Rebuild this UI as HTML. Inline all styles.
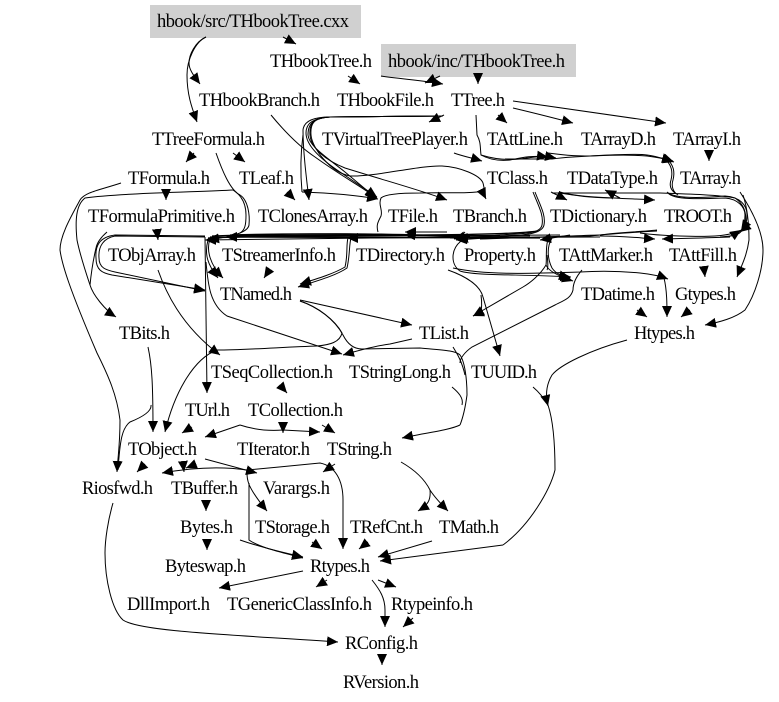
<!DOCTYPE html>
<html><head><meta charset="utf-8"><style>
html,body{margin:0;padding:0;background:#fff;width:779px;height:702px;overflow:hidden}
svg{display:block}
text{font-family:"Liberation Serif",serif;font-size:18.5px;fill:#000}
path{fill:none;stroke:#000;stroke-width:1;marker-end:url(#a)}
path.n{marker-end:none}
path.b{marker-end:none;stroke-width:1.3}
</style></head><body>
<svg width="779" height="702" viewBox="0 0 779 702" xmlns="http://www.w3.org/2000/svg">
<defs><marker id="a" markerUnits="userSpaceOnUse" markerWidth="12" markerHeight="10" refX="11" refY="5" orient="auto"><polygon points="0,0 11,5 0,10" fill="#000"/></marker></defs>
<rect x="150" y="5" width="211" height="33" fill="#d0d0d0"/>
<rect x="381" y="44" width="195" height="33" fill="#d0d0d0"/>

<!-- top -->
<path d="M283,37 L296,44"/>
<path d="M206,37 C195,42 189,55 189,63 C189,70 194,76 200,84"/>
<path d="M206,37 C195,42 187,60 187,75 C187,95 192,108 197,122"/>
<path d="M348,76 L360,84"/>
<path d="M381,76 C400,79 420,80 443,84"/>
<path d="M440,76 L425,83"/>
<path d="M478,75 L478,84"/>
<path d="M444,115 L429,122"/>
<path d="M498,115 L507,123"/>
<path d="M513,108 C530,112 550,117 573,123"/>
<path d="M513,101 L666,123"/>
<path d="M709,152 L709,161"/>
<path d="M454,153 C462,156 472,158 482,161"/>

<!-- TTree loop to clones, file, branch -->
<path d="M443,116 L330,117 C315,117 304,120 303,130 C303,150 306,175 309,200"/>
<path d="M443,116 L330,117 C315,118 306,122 306,133 C306,146 322,160 340,172 L377,197"/>
<path d="M443,116 L330,117 C315,118 308,122 308,135 C309,146 325,156 345,172 L376,198"/>
<path d="M443,116 L330,117 C315,118 309,122 310,135 C311,148 325,160 345,168 C390,182 420,190 447,200"/>
<path d="M443,116 L330,117 C315,118 310,122 311,135 C312,148 330,172 350,176 C375,177 420,165 442,166 C460,167 480,175 483,183 C485,190 484,195 486,199"/>
<path d="M271,115 C285,132 300,147 315,157 C340,175 360,186 377,198"/>
<path class="n" d="M484,191 C470,194 440,192 420,193 C400,193 385,194 381,198 C378,205 383,210 381,216 C378,222 376,225 378,232"/>
<path d="M302,192 C330,193 355,195 378,199"/>
<path class="n" d="M302,192 C300,170 301,150 303,135"/>

<!-- TTree to TClass/TArray -->
<path d="M476,115 L477,135 C481,142 480,147 481,155 C490,160 500,161 510,160 C520,158 532,155 548,157"/>
<path d="M481,155 C497,160 510,160 520,159 C540,156 545,156 556,158"/>
<path d="M548,153 C570,156 580,156 590,156 C625,154 640,154 647,155 C655,156 662,158 674,162"/>
<path d="M505,159 L552,159 C575,156 625,154 647,156 C655,157 662,158 673,161"/>
<path class="n" d="M664,158 C672,165 673,172 671,180 C669,186 671,190 675,193"/>
<path class="n" d="M666,158 C674,165 675,172 673,180 C671,186 673,192 678,195"/>

<!-- TLeaf, TTreeFormula -->
<path d="M194,153 L186,162"/>
<path d="M233,153 L245,162"/>
<path d="M287,192 L295,200"/>
<path d="M216,153 C222,170 230,190 240,195 C248,200 250,215 249,225 C248,232 235,236 208,240"/>
<path class="n" d="M233,190 C236,192 246,198 246,215 C246,225 245,230 240,233"/>

<!-- TFormula -->
<path d="M121,183 C100,190 85,192 80,200 C72,215 60,235 60,250 C62,265 70,290 97,353 C108,375 117,395 120,420 C120,445 118,455 117,472"/>
<path d="M166,192 L166,200"/>
<path d="M233,190 C200,192 120,193 85,198 C76,205 75,220 77,240 C79,250 85,270 90,285 C93,295 105,310 116,317"/>
<path class="n" d="M107,232 C100,238 97,243 96,248 C92,265 91,275 90,285"/>
<path d="M157,230 L158,240"/>
<path d="M205,236 L115,235 C100,237 95,245 96,258 C96,270 102,273 112,275 L205,290"/>
<path d="M205,237 L115,236 C104,238 98,246 99,258 C99,268 106,270 115,272 L205,291"/>

<!-- bundle -->
<path class="b" d="M208,238 C300,234 500,237 537,231"/>
<path class="b" d="M210,237 L540,238"/>
<path class="b" d="M212,236 C300,233 400,233 458,237"/>
<path class="b" d="M228,236 C300,235 400,235 470,236"/>
<path class="b" d="M230,235 C300,233 360,234 400,235"/>
<path class="n" d="M450,238 C520,239 560,236 600,235 C620,232 640,232 657,230"/>
<path class="n" d="M480,239 C520,238 560,236 590,236 C610,234 640,232 657,231"/>
<path d="M447,232 L405,232"/>
<path d="M500,236 L404,235"/>
<path d="M530,236 L205,240"/>
<path d="M560,235 L226,237"/>
<path d="M600,237 L347,238"/>
<path d="M465,232 C462,235 460,236 458,238 L454,239"/>
<path d="M533,192 C538,205 544,215 542,225 C540,235 520,233 500,235 L457,239"/>
<path d="M535,192 C540,205 546,215 544,225 C542,235 520,235 500,237 L456,240"/>
<path d="M570,235 L540,240"/>

<!-- TClass -> dict, TROOT, loops -->
<path d="M551,192 L567,200"/>
<path d="M560,192 C580,198 620,198 655,200"/>
<path d="M560,193 C580,196 590,198 620,198 L605,190"/>
<path class="n" d="M552,193 L660,193 C690,194 720,195 735,198 C745,205 747,215 745,225 C742,235 735,236 720,237"/>
<path d="M667,192 C672,197 690,199 725,196 C740,197 747,205 747,215 C747,222 745,228 740,232"/>
<path d="M668,193 C674,200 700,199 725,198 C738,199 745,207 745,215 C745,222 743,228 741,231"/>
<path d="M600,236 C625,236 640,238 655,239"/>
<path d="M730,237 C710,238 690,238 662,239"/>
<path d="M640,233 C660,236 700,237 715,236 C730,235 738,232 741,230"/>

<!-- TArray -->
<path d="M740,192 C755,215 763,235 763,250 C763,270 755,295 745,310 C735,318 720,322 705,325"/>
<path d="M743,195 C748,210 749,225 749,240 C747,255 742,265 737,277"/>

<!-- mid -->
<path d="M704,268 L705,277"/>
<path d="M637,310 L647,317"/>
<path d="M690,310 L681,317"/>
<path d="M664,278 C667,290 667,305 667,317"/>
<path d="M268,272 L264,278"/>
<path d="M348,238 C346,245 348,255 345,267 C335,273 320,278 300,284"/>
<path d="M351,238 C349,245 350,255 347,268 C337,275 320,280 298,287"/>
<path d="M210,239 C206,250 210,265 223,278"/>
<path d="M208,240 C204,255 208,265 218,278"/>
<path d="M205,237 L207,393"/>
<path d="M206,262 C208,285 210,305 227,316 L342,354"/>
<path d="M158,270 C165,290 180,325 220,355"/>
<path d="M148,347 C152,365 153,385 153,432"/>
<path class="n" d="M151,405 C152,412 140,418 130,422 C122,428 120,440 118,470"/>

<!-- TNamed -->
<path d="M300,300 L412,325"/>
<path d="M300,301 C318,307 335,320 342,333 C340,342 330,345 317,346 C285,347 245,350 217,350 C195,358 175,390 165,432"/>
<path class="n" d="M300,301 C318,307 335,320 343,335 C348,345 355,349 362,349 L420,348 C440,350 455,350 460,355 C465,362 467,380 467,395 C465,410 462,420 460,425"/>
<path d="M460,425 C450,430 425,433 402,438"/>
<path class="n" d="M452,387 C458,392 464,398 462,405"/>
<path class="n" d="M453,347 C458,355 462,362 465,375"/>
<path d="M412,339 L390,344 C375,346 360,350 343,355"/>

<!-- Right mid -->
<path d="M448,270 C465,276 480,285 483,297 L500,356"/>
<path d="M481,295 C482,302 482,310 480,313 L473,316"/>
<path d="M461,241 C450,250 451,265 460,271 C475,276 520,274 571,277"/>
<path d="M453,268 C490,276 540,273 580,272 C610,270 630,272 640,273 C650,274 660,276 668,279"/>
<path d="M546,265 C540,275 530,283 523,287 L473,316"/>
<path d="M549,237 C545,245 547,260 546,265 C548,270 555,275 573,281"/>
<path d="M552,238 C546,248 548,260 552,268 C556,274 562,276 570,278"/>
<path class="n" d="M582,270 C575,278 573,285 573,290 C571,298 565,300 555,305 L472,347 C465,352 460,358 460,363"/>
<path class="n" d="M547,255 C548,262 548,268 547,270"/>
<path d="M627,340 C590,350 560,365 552,375 C546,385 546,395 547,402 L548,406"/>
<path class="n" d="M533,387 C540,393 545,400 548,405 C553,420 555,445 555,470 C550,490 530,525 503,545"/>
<path d="M503,545 L380,561"/>

<!-- lower -->
<path d="M280,385 L287,393"/>
<path d="M192,427 L182,433"/>
<path d="M240,425 L205,437"/>
<path d="M240,425 C255,430 270,431 283,430 L320,432"/>
<path d="M283,425 L283,433"/>
<path d="M322,425 L335,433"/>
<path d="M205,459 L257,473"/>
<path d="M145,464 L137,472"/>
<path d="M247,470 C220,466 190,468 162,473"/>
<path d="M196,464 L186,468"/>
<path d="M183,462 L184,472"/>
<path d="M247,470 C270,468 300,465 320,463 C335,466 343,480 343,500 L343,549"/>
<path d="M335,464 L323,472"/>
<path d="M401,462 C415,470 425,480 430,490 C435,498 442,505 448,511"/>
<path d="M430,490 C431,500 428,505 418,511"/>
<path d="M247,473 C247,482 250,487 253,492 C258,500 262,505 267,511"/>
<path d="M249,483 L249,540 C260,548 285,553 303,558"/>
<path d="M240,540 C260,547 285,553 303,557"/>
<path d="M206,502 L206,511"/>
<path d="M207,541 L207,550"/>
<path d="M312,542 L322,549"/>
<path d="M368,542 L359,549"/>
<path d="M432,541 L378,557"/>
<path d="M303,571 L219,588"/>
<path d="M327,580 L316,587"/>
<path d="M378,580 L396,587"/>
<path d="M372,580 C380,590 385,598 385,610 L385,627"/>
<path d="M413,618 L403,627"/>
<path d="M382,657 L382,665"/>
<path d="M113,503 C108,520 105,540 105,553 C105,580 112,610 123,620 C140,632 240,635 338,642"/>

<!-- labels -->
<text x="157" y="27" textLength="192">hbook/src/THbookTree.cxx</text>
<g transform="translate(0,1)">
<text x="270" y="66" textLength="102">THbookTree.h</text>
<text x="388" y="66" textLength="177">hbook/inc/THbookTree.h</text>
<text x="199" y="105" textLength="121">THbookBranch.h</text>
<text x="337" y="105" textLength="97">THbookFile.h</text>
<text x="451" y="105" textLength="54">TTree.h</text>
<text x="152" y="144" textLength="113">TTreeFormula.h</text>
<text x="322" y="144" textLength="146">TVirtualTreePlayer.h</text>
<text x="487" y="144" textLength="76">TAttLine.h</text>
<text x="581" y="144" textLength="75">TArrayD.h</text>
<text x="673" y="144" textLength="68">TArrayI.h</text>
<text x="128" y="183" textLength="82">TFormula.h</text>
<text x="239" y="183" textLength="55">TLeaf.h</text>
<text x="487" y="183" textLength="61">TClass.h</text>
<text x="567" y="183" textLength="91">TDataType.h</text>
<text x="680" y="183" textLength="61">TArray.h</text>
<text x="88" y="221" textLength="147">TFormulaPrimitive.h</text>
<text x="258" y="221" textLength="110">TClonesArray.h</text>
<text x="388" y="221" textLength="50">TFile.h</text>
<text x="453" y="221" textLength="74">TBranch.h</text>
<text x="550" y="221" textLength="97">TDictionary.h</text>
<text x="664" y="221" textLength="68">TROOT.h</text>
<text x="108" y="260" textLength="88">TObjArray.h</text>
<text x="222" y="260" textLength="114">TStreamerInfo.h</text>
<text x="356" y="260" textLength="89">TDirectory.h</text>
<text x="464" y="260" textLength="72">Property.h</text>
<text x="559" y="260" textLength="94">TAttMarker.h</text>
<text x="669" y="260" textLength="68">TAttFill.h</text>
<text x="220" y="299" textLength="72">TNamed.h</text>
<text x="581" y="299" textLength="74">TDatime.h</text>
<text x="675" y="299" textLength="61">Gtypes.h</text>
<text x="119" y="338" textLength="51">TBits.h</text>
<text x="419" y="338" textLength="50">TList.h</text>
<text x="634" y="338" textLength="61">Htypes.h</text>
<text x="211" y="377" textLength="122">TSeqCollection.h</text>
<text x="349" y="377" textLength="102">TStringLong.h</text>
<text x="471" y="377" textLength="66">TUUID.h</text>
<text x="185" y="415" textLength="45">TUrl.h</text>
<text x="248" y="415" textLength="95">TCollection.h</text>
<text x="128" y="454" textLength="69">TObject.h</text>
<text x="237" y="454" textLength="73">TIterator.h</text>
<text x="327" y="454" textLength="65">TString.h</text>
<text x="82" y="493" textLength="71">Riosfwd.h</text>
<text x="171" y="493" textLength="67">TBuffer.h</text>
<text x="263" y="493" textLength="67">Varargs.h</text>
<text x="180" y="532" textLength="53">Bytes.h</text>
<text x="255" y="532" textLength="75">TStorage.h</text>
<text x="350" y="532" textLength="73">TRefCnt.h</text>
<text x="439" y="532" textLength="60">TMath.h</text>
<text x="165" y="571" textLength="81">Byteswap.h</text>
<text x="310" y="571" textLength="60">Rtypes.h</text>
<text x="127" y="609" textLength="83">DllImport.h</text>
<text x="227" y="609" textLength="145">TGenericClassInfo.h</text>
<text x="391" y="609" textLength="82">Rtypeinfo.h</text>
<text x="345" y="648" textLength="73">RConfig.h</text>
<text x="343" y="687" textLength="76">RVersion.h</text>
</g>
</svg>
</body></html>
